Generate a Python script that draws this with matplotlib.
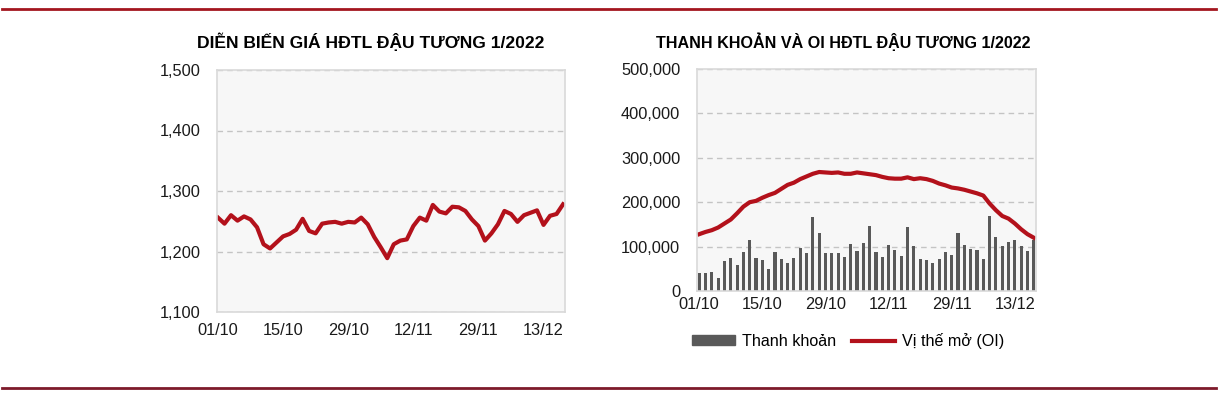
import matplotlib
matplotlib.use("Agg")
import matplotlib.pyplot as plt
from matplotlib.lines import Line2D
from matplotlib.patches import Patch

plt.rcParams['font.family'] = ['Liberation Sans', 'DejaVu Sans']

# ---- data ----
tick_labels = ['01/10', '15/10', '29/10', '12/11', '29/11', '13/12']
tick_pos = [0, 10, 20, 30, 40, 50]

price = [1256, 1246, 1260, 1251, 1258, 1253, 1240, 1212, 1205, 1215,
         1225, 1229, 1236, 1254, 1234, 1230, 1246, 1248, 1249, 1246,
         1249, 1248, 1256, 1245, 1224, 1207, 1189, 1212, 1218, 1220,
         1242, 1256, 1251, 1277, 1266, 1263, 1274, 1273, 1267, 1253,
         1242, 1218, 1230, 1245, 1267, 1262, 1249, 1260, 1264, 1268,
         1244, 1259, 1262, 1278]

volume = [41, 41, 43, 30, 67, 74, 58, 88, 114, 74,
          69, 49, 87, 73, 63, 75, 97, 85, 166, 130,
          85, 85, 86, 76, 106, 91, 107, 147, 88, 76,
          103, 93, 79, 145, 101, 72, 70, 64, 72, 88,
          81, 131, 104, 94, 93, 73, 169, 121, 101, 111,
          115, 101, 90, 114]
volume = [v * 1000 for v in volume]

oi = [128, 133, 137, 143, 152, 161, 175, 190, 200, 203,
      210, 216, 221, 230, 239, 244, 252, 258, 264, 268,
      267, 266, 267, 264, 264, 267, 265, 263, 261, 257,
      254, 253, 253, 256, 252, 254, 252, 248, 242, 238,
      233, 231, 228, 224, 220, 215, 197, 182, 169, 163,
      152, 139, 128, 120]
oi = [v * 1000 for v in oi]

x = list(range(len(price)))

RED = '#b3111b'
GRID = '#c4c4c4'
BG = '#f7f7f7'
FRAME = '#d9d9d9'

W, H = 1218, 393
fig = plt.figure(figsize=(W / 100, H / 100), dpi=100)


def box(l, t, r, b):
    return [l / W, (H - b) / H, (r - l) / W, (b - t) / H]


def style(ax):
    ax.set_facecolor(BG)
    for s in ax.spines.values():
        s.set_color(FRAME)
        s.set_linewidth(1.2)
    ax.tick_params(length=0, labelsize=11.8, colors='#1a1a1a')
    ax.yaxis.grid(True, linestyle=(0, (4, 3)), color=GRID, linewidth=1)
    ax.set_axisbelow(True)


# ---- left chart: price ----
ax1 = fig.add_axes(box(217, 70, 565, 312))
style(ax1)
ax1.plot(x, price, color=RED, linewidth=3, solid_joinstyle='round')
ax1.set_xlim(-0.15, 53.3)
ax1.set_ylim(1100, 1500)
ax1.set_yticks([1100, 1200, 1300, 1400, 1500])
ax1.set_yticklabels(['{:,}'.format(v) for v in [1100, 1200, 1300, 1400, 1500]])
ax1.set_xticks(tick_pos)
ax1.set_xticklabels(tick_labels)
ax1.tick_params(axis='y', pad=12)
ax1.tick_params(axis='x', pad=8)
fig.text(371 / W, 1 - 42 / H, 'DIỄN BIẾN GIÁ HĐTL ĐẬU TƯƠNG 1/2022',
         ha='center', va='center', fontsize=12.6, fontweight='bold')

# ---- right chart: volume & OI ----
ax2 = fig.add_axes(box(697, 69, 1036, 291))
style(ax2)
ax2.bar(x, volume, width=0.5, color='#595959', align='edge')
ax2.plot([i + 0.25 for i in x], oi, color=RED, linewidth=3)
ax2.set_xlim(-0.1, 53.6)
ax2.set_ylim(0, 500000)
yt = [0, 100000, 200000, 300000, 400000, 500000]
ax2.set_yticks(yt)
ax2.set_yticklabels(['{:,}'.format(v) for v in yt])
ax2.set_xticks([p + 0.25 for p in tick_pos])
ax2.set_xticklabels(tick_labels)
ax2.tick_params(axis='y', pad=12)
ax2.tick_params(axis='x', pad=4)
fig.text(843 / W, 1 - 42 / H, 'THANH KHOẢN VÀ OI HĐTL ĐẬU TƯƠNG 1/2022',
         ha='center', va='center', fontsize=11.6, fontweight='bold')

handles = [Patch(color='#595959', label='Thanh khoản'),
           Line2D([0], [0], color=RED, linewidth=3, label='Vị thế mở (OI)')]
fig.legend(handles=handles, loc='center', bbox_to_anchor=(848 / W, 1 - 341 / H),
           ncol=2, frameon=False, fontsize=11.6, handlelength=2.7,
           handleheight=0.6, columnspacing=1.0, handletextpad=0.4)

# ---- page rules ----
fig.add_artist(Line2D([2 / W, 1216 / W], [1 - 9 / H, 1 - 9 / H],
                      color='#a3161f', linewidth=2))
fig.add_artist(Line2D([2 / W, 1216 / W], [1 - 388 / H, 1 - 388 / H],
                      color='#7d1a2a', linewidth=2))

fig.savefig('out.png', dpi=100, facecolor='white')
